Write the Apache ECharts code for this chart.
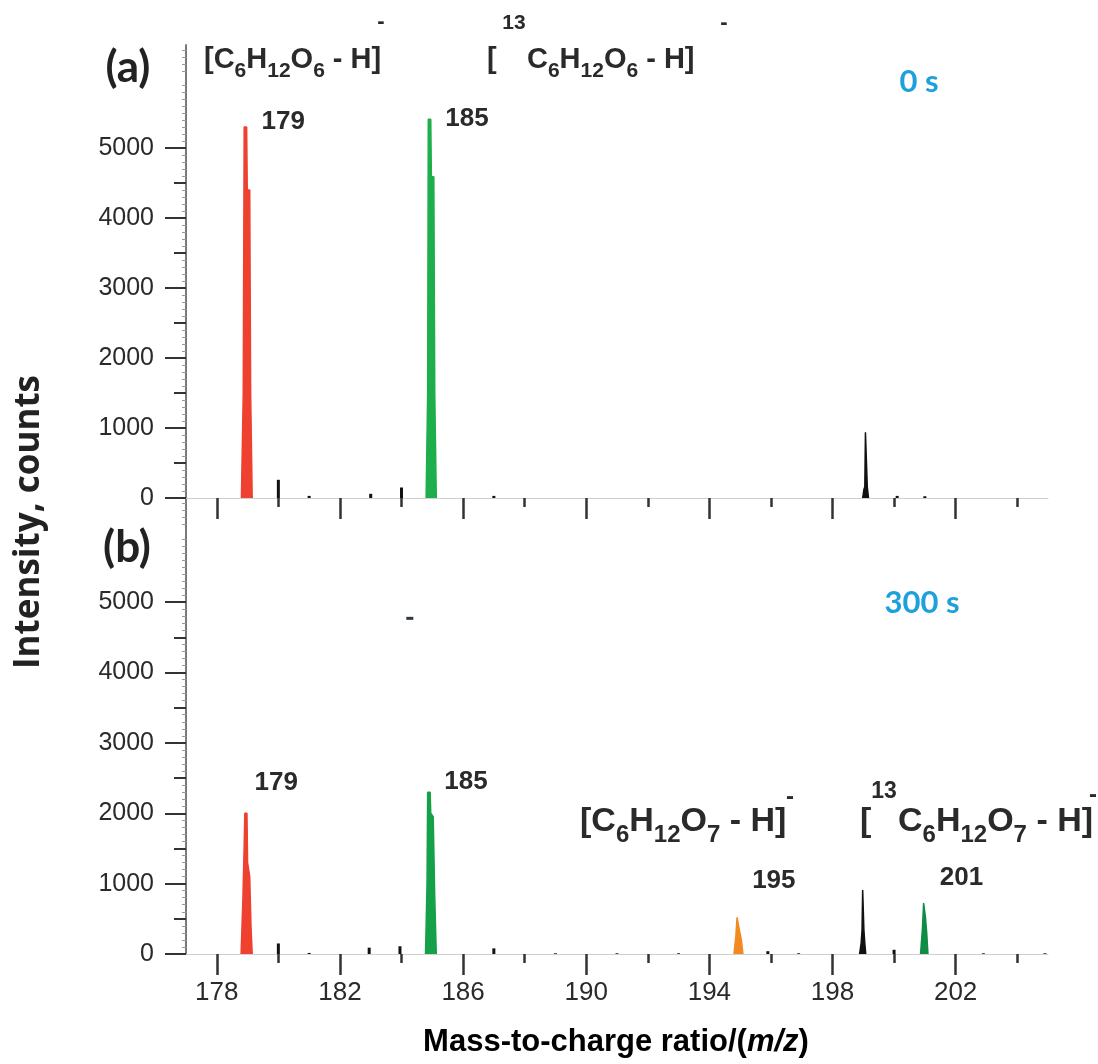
<!DOCTYPE html>
<html><head><meta charset="utf-8">
<script src="https://cdn.jsdelivr.net/npm/echarts@6/dist/echarts.min.js"></script>
<style>html,body{margin:0;padding:0;background:#fff}#c{width:1098px;height:1064px}</style>
</head><body><div id="c"></div>
<script>
// ---------- axis ticks ----------
const xMajorTicks = [178, 182, 186, 190, 194, 198, 202];
const xMinorTicks = [180, 184, 188, 192, 196, 200, 204];
const yTickLabels = [0, 1000, 2000, 3000, 4000, 5000];
const yMidTicks = [500, 1500, 2500, 3500, 4500];
const xRange = [177, 205];
const yMaxA = 6470, yMaxB = 6480;

// ---------- panel (a): 0 s ----------
const a179 = [[178.80,0],[178.86,1500],[178.89,5300],[178.97,5300],[178.99,4400],[179.07,4400],[179.10,1500],[179.15,0]];
const a185 = [[184.80,0],[184.85,1500],[184.87,5410],[184.95,5410],[184.97,4590],[185.05,4590],[185.08,1500],[185.13,0]];
const a199 = [[198.98,0],[199.02,120],[199.05,160],[199.07,940],[199.12,940],[199.13,160],[199.17,0]];
const aSmall = [[180.0,260],[181.0,30],[183.0,60],[184.0,150],[187.0,30],[200.1,30],[201.0,25]];
const aLabelMz = [179, 185];
const aLabelTop = [5300, 5410];
const aLabelText = ['179', '185'];

// ---------- panel (b): 300 s ----------
const b179 = [[178.79,0],[178.85,800],[178.89,1550],[178.91,2000],[178.98,2000],[179.00,1300],[179.07,1100],[179.11,400],[179.15,0]];
const b185 = [[184.78,0],[184.83,1000],[184.85,2300],[184.93,2300],[184.95,2000],[185.03,1950],[185.08,800],[185.13,0]];
const b195 = [[194.80,0],[194.86,250],[194.90,520],[194.95,500],[194.98,330],[195.04,200],[195.09,0]];
const b201 = [[200.86,0],[200.92,350],[200.96,725],[200.99,620],[201.02,520],[201.06,300],[201.10,0]];
const b199 = [[198.88,0],[198.93,150],[198.96,340],[198.98,910],[199.01,910],[199.02,340],[199.05,150],[199.08,0]];
const bSmall = [[180.0,150],[181.0,15],[182.95,90],[183.95,110],[187.0,80],[189.0,10],[191.0,10],[193.0,10],[195.9,40],[196.9,10],[200.0,60],[202.9,10],[204.9,10]];
const bArtifact = [[184.27, 4770]];
const bLabelMz = [179, 185, 195, 201];
const bLabelTop = [2000, 2300, 520, 725];
const bLabelText = ['179', '185', '195', '201'];

// ---------- styling ----------
const RED = '#ee4130', GREEN = '#1eae4b', GREEN2 = '#15a04a', GREEN3 = '#0f8c46', ORANGE = '#f28a22', BLACK = '#111';
const TXT = '#2a2a2a';
const numFont = 'Liberation Sans, Arial, sans-serif';
const calFont = 'Lato, Open Sans, sans-serif';

const chart = echarts.init(document.getElementById('c'), null, {renderer: 'canvas'});

function xAxes(gridIndex, withLabels) {
  return [
    {type:'value', gridIndex, min:xRange[0], max:xRange[1], position:'bottom',
     axisLine:{show:true, onZero:false, lineStyle:{color:'#cfcfcf', width:1}},
     axisTick:{show:true, customValues:xMajorTicks, length:21, lineStyle:{color:'#333', width:2.5}},
     axisLabel:{show:withLabels, customValues:xMajorTicks, margin:26, fontSize:26, color:TXT, fontFamily:numFont,
       formatter: v => String(v)},
     splitLine:{show:false}},
    {type:'value', gridIndex, min:xRange[0], max:xRange[1], position:'bottom',
     axisLine:{show:false},
     axisTick:{show:true, customValues:xMinorTicks, length:9, lineStyle:{color:'#333', width:2.5}},
     axisLabel:{show:false}, splitLine:{show:false}}
  ];
}
function yAxes(gridIndex, max) {
  return [
    {type:'value', gridIndex, min:0, max, interval:1000, position:'left',
     axisLine:{show:true, lineStyle:{color:'#7a7a7a', width:2}},
     axisTick:{show:true, customValues:yTickLabels, length:21, lineStyle:{color:'#333', width:2}},
     minorTick:{show:true, splitNumber:10, length:4, lineStyle:{color:'#999', width:1}},
     axisLabel:{show:true, customValues:yTickLabels, margin:32, fontSize:25, color:TXT, fontFamily:numFont,
       formatter: v => String(v)},
     splitLine:{show:false}, minorSplitLine:{show:false}},
    {type:'value', gridIndex, min:0, max, interval:500, position:'left',
     axisLine:{show:false},
     axisTick:{show:true, customValues:yMidTicks, length:12, lineStyle:{color:'#333', width:2}},
     axisLabel:{show:false}, splitLine:{show:false}}
  ];
}
function peak(data, color, xi, yi, lw) {
  return {type:'line', xAxisIndex:xi, yAxisIndex:yi, data, symbol:'none', showSymbol:false,
    lineStyle:{color, width:lw || 1.5}, areaStyle:{color, opacity:1}, itemStyle:{color},
    silent:true, z:3, animation:false};
}
function small(data, xi, yi) {
  return {type:'bar', xAxisIndex:xi, yAxisIndex:yi, data, barWidth:3, itemStyle:{color:BLACK}, silent:true, z:3, animation:false};
}
function labels(mz, top, text, offsets, xi, yi) {
  return {type:'scatter', xAxisIndex:xi, yAxisIndex:yi, symbolSize:0, silent:true, z:5, animation:false,
    itemStyle:{opacity:1},
    data: mz.map((m, i) => ({value:[m, top[i]], name:text[i],
      label:{show:true, position:offsets[i], align:'left', verticalAlign:'middle', formatter:text[i],
        fontSize:26, fontWeight:'bold', color:TXT, opacity:1, fontFamily:numFont}}))};
}

function formulaRich(main, sub, pad) {
  return {
    m:{fontSize:main, fontWeight:'bold', fontFamily:numFont, color:TXT},
    s:{fontSize:sub, fontWeight:'bold', fontFamily:numFont, color:TXT, padding:[pad, 0, 0, 0]}
  };
}
function gtext(x, y, text, fontSize, color, family, extra) {
  return Object.assign({type:'text', x, y, silent:true,
    style:{text, fontSize, fontWeight:'bold', fontFamily:family, fill:color, align:'center', verticalAlign:'middle'}}, extra || {});
}
function formula(x, y, text, main, sub, pad) {
  return {type:'text', x, y, silent:true, style:{text, rich:formulaRich(main, sub, pad), align:'left', verticalAlign:'middle', fill:TXT}};
}

const option = {
  backgroundColor:'#fff',
  animation:false,
  grid:[
    {left:186, width:862, top:45, height:453},
    {left:186, width:862, top:498, height:456}
  ],
  xAxis:[...xAxes(0, false), ...xAxes(1, true)],
  yAxis:[...yAxes(0, yMaxA), ...yAxes(1, yMaxB)],
  series:[
    peak(a179, RED, 0, 0),
    peak(a185, GREEN, 0, 0),
    peak(a199, BLACK, 0, 0),
    small(aSmall, 0, 0),
    labels(aLabelMz, aLabelTop, aLabelText, [[14,-5],[13,0]], 0, 0),
    peak(b179, RED, 2, 2),
    peak(b185, GREEN2, 2, 2),
    peak(b195, ORANGE, 2, 2),
    peak(b201, GREEN3, 2, 2),
    peak(b199, BLACK, 2, 2),
    small(bSmall, 2, 2),
    {type:'scatter', xAxisIndex:2, yAxisIndex:2, data:bArtifact, symbol:'rect', symbolSize:[7,3], itemStyle:{color:'#2b3a44', opacity:1}, silent:true},
    labels(bLabelMz, bLabelTop, bLabelText, [[7,-30],[12,-10],[12,-37],[15,-25]], 2, 2)
  ],
  graphic:[
    gtext(29, 522, 'Intensity, counts', 35, '#222', 'Open Sans, Lato, sans-serif', {rotation: Math.PI / 2}),
    {type:'text', x:616, y:1042, silent:true, style:{
      text:'{n|Mass-to-charge ratio/(}{i|m/z}{n|)}',
      rich:{n:{fontSize:31, fontWeight:'bold', fontFamily:numFont, color:TXT},
            i:{fontSize:31, fontWeight:'bold', fontStyle:'italic', fontFamily:numFont, color:TXT}},
      align:'center', verticalAlign:'middle'}},
    gtext(128, 68, '(a)', 44, '#222', calFont),
    gtext(127, 548, '(b)', 44, '#222', calFont),
    gtext(919, 82, '0 s', 31, '#1ea0dc', calFont),
    gtext(922, 603, '300 s', 31, '#1ea0dc', calFont),
    // formulas, panel (a)
    formula(204, 60, '{m|[C}{s|6}{m|H}{s|12}{m|O}{s|6}{m| - H]}', 29, 21, 22),
    gtext(381, 22, '-', 22, TXT, numFont),
    formula(487, 60, '{m|[}', 29, 21, 22),
    gtext(514, 23, '13', 21, TXT, numFont),
    formula(527, 60, '{m|C}{s|6}{m|H}{s|12}{m|O}{s|6}{m| - H]}', 29, 21, 22),
    gtext(724, 23, '-', 22, TXT, numFont),
    // formulas, panel (b)
    formula(580, 822, '{m|[C}{s|6}{m|H}{s|12}{m|O}{s|7}{m| - H]}', 34, 24, 26),
    gtext(790, 797, '-', 24, TXT, numFont),
    formula(860, 822, '{m|[}', 34, 24, 26),
    gtext(884, 792, '13', 23, TXT, numFont),
    formula(898, 822, '{m|C}{s|6}{m|H}{s|12}{m|O}{s|7}{m| - H]}', 34, 24, 26),
    gtext(1093, 795, '-', 24, TXT, numFont)
  ]
};
chart.setOption(option);
</script>
</body></html>
